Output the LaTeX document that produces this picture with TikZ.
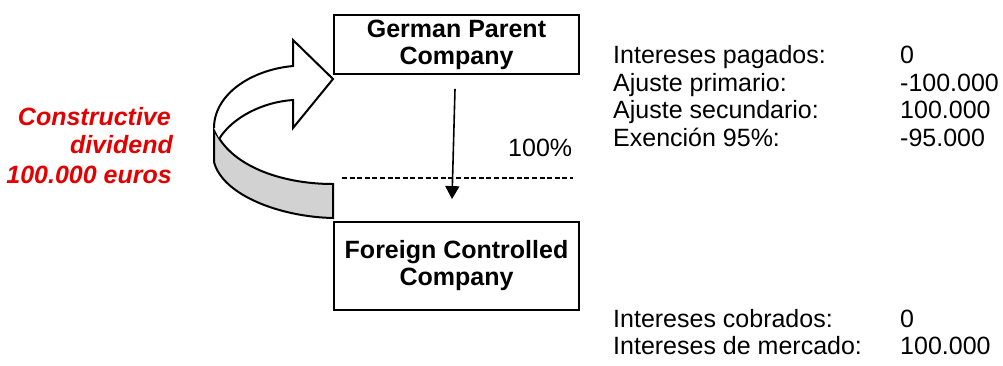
\documentclass[tikz,border=0pt]{standalone}
\usepackage{fontspec}
\setmainfont{Liberation Sans}
\usetikzlibrary{arrows.meta}
\definecolor{divred}{RGB}{226,0,0}
\definecolor{bandgray}{RGB}{210,210,210}
\begin{document}
\begin{tikzpicture}[x=1pt,y=-1pt,
  every node/.style={inner sep=0pt, font=\fontsize{25}{27}\selectfont},
  company/.style={draw, line width=1.8pt, minimum width=245pt, align=center,
    font=\fontsize{25}{27}\selectfont\bfseries},
  txt/.style={anchor=base west},
  redtxt/.style={anchor=base east, text=divred, font=\fontsize{25}{27}\selectfont\bfseries\itshape},
  shape3d/.style={line width=2pt, line join=miter},
  share/.style={line width=1.6pt, -{Triangle[width=14pt,length=13pt]}},
  cut/.style={line width=1.7pt, dash pattern=on 5pt off 2.6pt}]
\useasboundingbox (0,0) rectangle (1003,365);

% the two companies
\node[company, minimum height=59pt] (gp) at (456.5,44.5) {German Parent\\Company};
\node[company, minimum height=88pt] (fc) at (456.5,266) {Foreign Controlled\\Company};

% shareholding
\draw[share] ([xshift=-1.5pt,yshift=-14pt]gp.south) -- ([xshift=-4.5pt,yshift=22pt]fc.north);
\coordinate (cutL) at (342,178);
\coordinate (cutR) at (573,178);
\draw[cut] (cutL) -- (cutR);
\node[txt] (pct) at (508,156) {100\%};

% curved 3D arrow: shaded underside band
\draw[shape3d, fill=bandgray]
  (214,128) -- (214,162)
  .. controls (223,196) and (282,217) .. (333,218)
  -- (333,184)
  .. controls (280,184) and (228,165) .. (214,128) -- cycle;
% curved 3D arrow: upper face with head
\draw[shape3d, fill=white]
  (214,128) .. controls (214,95) and (250,70) .. (293,66)
  -- (293,40) -- (333,79) -- (293,128) -- (293,100)
  .. controls (262,102) and (232,118) .. (219.3,138.6);

% constructive dividend
\node[redtxt] (cd1) at (171,125) {Constructive};
\node[redtxt] (cd2) at (173,153) {dividend};
\node[redtxt] (cd3) at (172,183) {100.000 euros};

% parent side figures
\node[txt] (l1) at (613,63) {Intereses pagados:};
\node[txt] (v1) at (900,63) {0};
\node[txt] (l2) at (613,91) {Ajuste primario:};
\node[txt] (v2) at (900,91) {-100.000};
\node[txt] (l3) at (613,118.5) {Ajuste secundario:};
\node[txt] (v3) at (900,118.5) {100.000};
\node[txt] (l4) at (613,146) {Exención 95\%:};
\node[txt] (v4) at (900,146) {-95.000};

% subsidiary side figures
\node[txt] (l5) at (613,327) {Intereses cobrados:};
\node[txt] (v5) at (900,327) {0};
\node[txt] (l6) at (613,354) {Intereses de mercado:};
\node[txt] (v6) at (900,354) {100.000};
\end{tikzpicture}
\end{document}
